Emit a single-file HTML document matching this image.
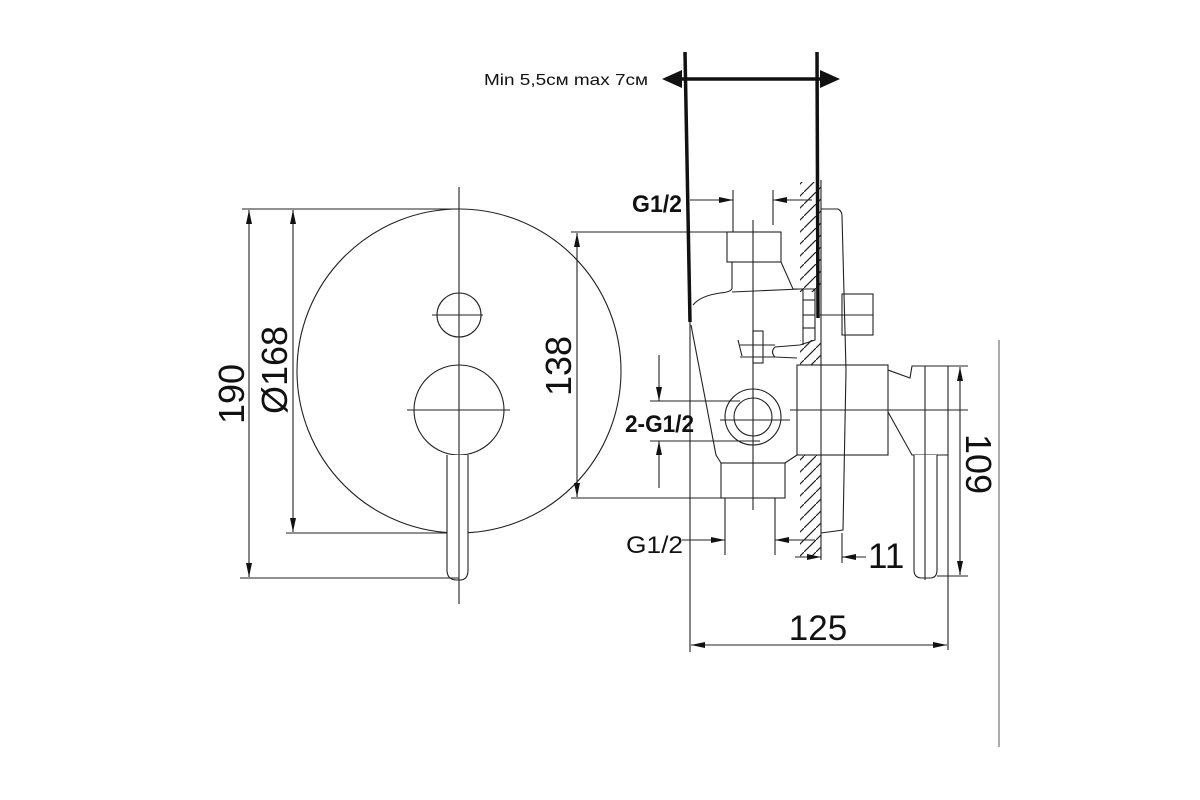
<!DOCTYPE html>
<html><head><meta charset="utf-8"><style>html,body{margin:0;padding:0;background:#fff}svg{display:block}</style></head><body>
<svg width="1200" height="800" viewBox="0 0 1200 800" xmlns="http://www.w3.org/2000/svg" font-family="Liberation Sans, sans-serif">
<defs>
<marker id="a" viewBox="0 0 14 6" refX="14" refY="3" markerWidth="14" markerHeight="6" markerUnits="userSpaceOnUse" orient="auto-start-reverse"><path d="M0,0 L14,3 L0,6 z" fill="#111"/></marker>
<pattern id="h" width="12" height="12" patternUnits="userSpaceOnUse"><path d="M0,12 L12,0" stroke="#222" stroke-width="1.2"/></pattern>
</defs>
<g fill="none" stroke="#222" stroke-width="1.1">
<circle cx="459" cy="371" r="162"/>
<circle cx="459" cy="315" r="22"/>
<circle cx="459" cy="410" r="45"/>
<path d="M447,455 L447,570 Q447,580 457,580 L460,580 Q468,580 468,570 L468,455" fill="#fff"/>
<line x1="459" y1="187" x2="459" y2="604"/>
<line x1="432" y1="315" x2="483" y2="315"/>
<line x1="407" y1="410" x2="510" y2="410"/>
<line x1="242" y1="209" x2="459" y2="209"/>
<line x1="240" y1="578" x2="459" y2="578"/>
<line x1="286" y1="533" x2="447" y2="533"/>
<line x1="571" y1="232" x2="727" y2="232"/>
<line x1="571" y1="498" x2="722" y2="498"/>
<line x1="249" y1="210" x2="249" y2="577" marker-start="url(#a)" marker-end="url(#a)"/>
<line x1="293" y1="210" x2="293" y2="532" marker-start="url(#a)" marker-end="url(#a)"/>
<line x1="577" y1="233" x2="577" y2="497" marker-start="url(#a)" marker-end="url(#a)"/>
<rect x="800" y="182" width="21" height="110" fill="url(#h)" stroke="none"/>
<rect x="800" y="340" width="21" height="25" fill="url(#h)" stroke="none"/>
<rect x="800" y="455" width="21" height="103" fill="url(#h)" stroke="none"/>
<line x1="821" y1="180" x2="821" y2="560"/>
<path d="M821,209 L838,209 Q842,211 842,216 L846,370 L843,530 L821,533"/>
<rect x="842" y="294" width="31" height="41"/>
<line x1="820" y1="315" x2="873" y2="315"/>
<rect x="797" y="365" width="91" height="90"/>
<path d="M888,370 L910,378 L912,366 L948,366 L948,455 L912,455 L888,412"/>
<line x1="925" y1="366" x2="925" y2="455"/>
<path d="M914,455 L914,570 Q914,578 922,578 L930,578 Q937,578 937,570 L937,455" fill="#fff"/>
<line x1="925" y1="455" x2="925" y2="580"/>
<line x1="948" y1="455" x2="948" y2="650"/>
<line x1="948" y1="366" x2="968" y2="366"/>
<line x1="937" y1="576" x2="968" y2="576"/>
<line x1="960" y1="367" x2="960" y2="575" marker-start="url(#a)" marker-end="url(#a)"/>
<line x1="790" y1="410" x2="968" y2="410"/>
<rect x="727" y="232" width="54" height="30"/>
<path d="M732,262 L732,288 Q732,292 720,293 Q700,296 693,305"/>
<path d="M781,262 L793,289 L815,289 L815,340 L800,345 L775,347 Q770,352 775,357 L797,358"/>
<line x1="732" y1="292" x2="800" y2="289"/>
<line x1="803" y1="289" x2="803" y2="345"/>
<line x1="803" y1="300" x2="815" y2="300"/><line x1="803" y1="315" x2="815" y2="315"/><line x1="803" y1="328" x2="815" y2="328"/>
<rect x="753" y="331" width="10" height="32"/>
<line x1="740" y1="345" x2="775" y2="345"/><line x1="740" y1="357" x2="775" y2="357"/>
<line x1="738" y1="340" x2="742" y2="356"/>
<path d="M691,325 L716,455 L721,463"/>
<rect x="721" y="463" width="64" height="35"/>
<path d="M785,463 L797,455"/>
<circle cx="753" cy="417" r="28"/>
<circle cx="753" cy="417" r="19"/>
<line x1="753" y1="220" x2="753" y2="510"/>
<line x1="720" y1="420" x2="790" y2="420"/>
<line x1="733" y1="190" x2="733" y2="232"/>
<line x1="773" y1="190" x2="773" y2="225"/>
<line x1="690" y1="200" x2="733" y2="200" marker-end="url(#a)"/>
<line x1="812" y1="200" x2="773" y2="200" marker-end="url(#a)"/>
<line x1="725" y1="498" x2="725" y2="555"/>
<line x1="775" y1="498" x2="775" y2="555"/>
<line x1="682" y1="540" x2="725" y2="540" marker-end="url(#a)"/>
<line x1="815" y1="540" x2="775" y2="540" marker-end="url(#a)"/>
<line x1="795" y1="557" x2="821" y2="557" marker-end="url(#a)"/>
<line x1="842" y1="533" x2="842" y2="563"/>
<line x1="866" y1="557" x2="842" y2="557" marker-end="url(#a)"/>
<line x1="650" y1="401" x2="740" y2="401"/>
<line x1="650" y1="441" x2="760" y2="441"/>
<line x1="659" y1="355" x2="659" y2="401" marker-end="url(#a)"/>
<line x1="659" y1="488" x2="659" y2="441" marker-end="url(#a)"/>
<line x1="690" y1="320" x2="690" y2="652"/>
<line x1="691" y1="645" x2="947" y2="645" marker-start="url(#a)" marker-end="url(#a)"/>
<line x1="999" y1="340" x2="999" y2="747" stroke="#666"/>
</g>
<g stroke="#111" stroke-width="3.5" fill="none">
<line x1="685" y1="52" x2="690" y2="322"/>
<line x1="817" y1="52" x2="818" y2="318"/>
<line x1="666" y1="79" x2="836" y2="79"/>
</g>
<path d="M662,79 L682,70 L682,88 z M840,79 L820,70 L820,88 z" fill="#111"/>
<g fill="#111">
<text x="484" y="85" font-size="16" textLength="164" lengthAdjust="spacingAndGlyphs">Min 5,5см max 7см</text>
<text x="632" y="212" font-size="24" font-weight="bold" textLength="50" lengthAdjust="spacingAndGlyphs">G1/2</text>
<text x="625" y="432" font-size="24" font-weight="bold" textLength="69" lengthAdjust="spacingAndGlyphs">2-G1/2</text>
<text x="626" y="553" font-size="24" textLength="57" lengthAdjust="spacingAndGlyphs">G1/2</text>
<text x="868" y="568" font-size="35">11</text>
<text x="818" y="640" font-size="35" text-anchor="middle">125</text>
<text transform="translate(244,394) rotate(-90)" font-size="36" text-anchor="middle">190</text>
<text transform="translate(287,370) rotate(-90)" font-size="36" text-anchor="middle">Ø168</text>
<text transform="translate(571,366) rotate(-90)" font-size="36" text-anchor="middle">138</text>
<text transform="translate(966,464) rotate(90)" font-size="36" text-anchor="middle">109</text>
</g>
</svg>
</body></html>
